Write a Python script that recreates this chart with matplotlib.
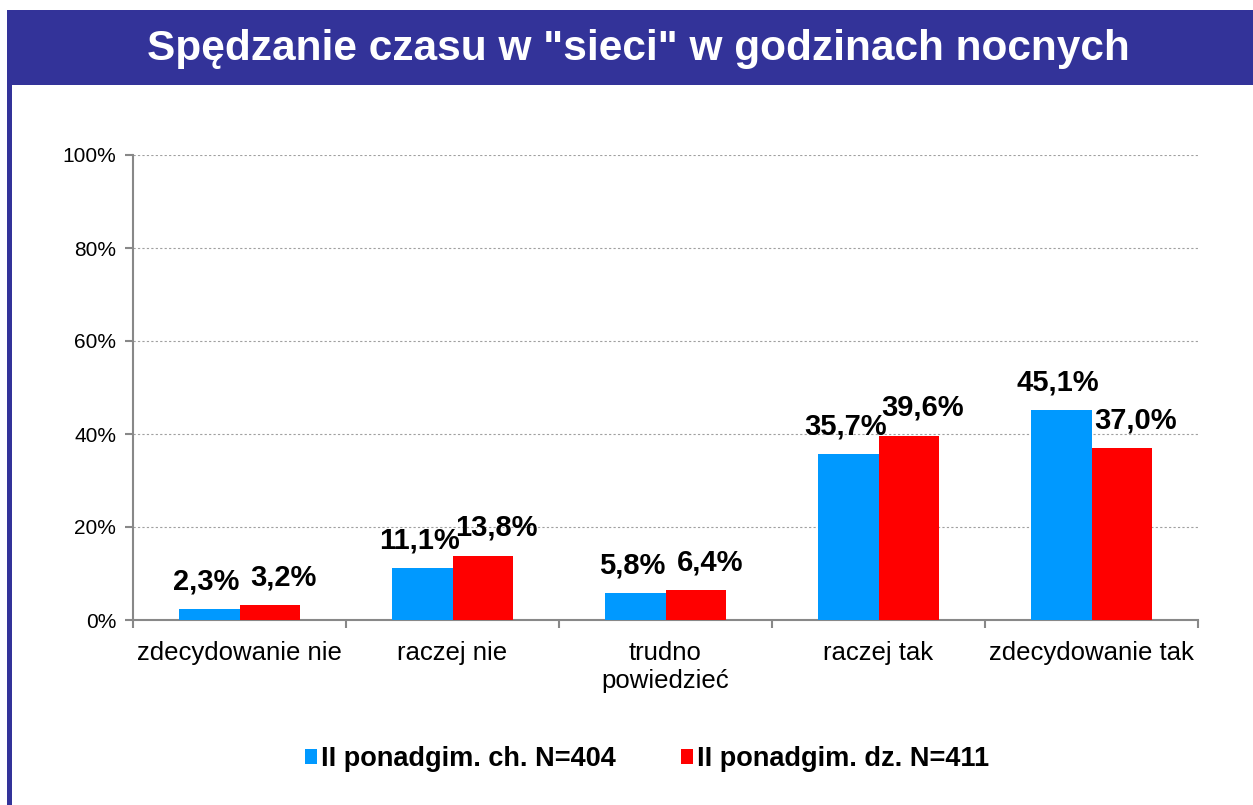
import matplotlib
matplotlib.use("Agg")
import matplotlib.pyplot as plt
from matplotlib.patches import Rectangle
import numpy as np

plt.rcParams['font.family'] = ['Liberation Sans', 'DejaVu Sans']

categories = ["zdecydowanie nie", "raczej nie", "trudno\npowiedzieć", "raczej tak", "zdecydowanie tak"]
series_names = ["II ponadgim. ch. N=404", "II ponadgim. dz. N=411"]
boys = [2.3, 11.1, 5.8, 35.7, 45.1]
girls = [3.2, 13.8, 6.4, 39.6, 37.0]
colors = ["#0099FF", "#FF0000"]
yticks = [0, 20, 40, 60, 80, 100]
title = 'Spędzanie czasu w "sieci" w godzinach nocnych'

W, H = 1253, 805
fig = plt.figure(figsize=(W/100, H/100), dpi=100)

# banner & left border
fig.patches.append(Rectangle((7/W, 1-85/H), 1-7/W, 75/H, transform=fig.transFigure,
                             facecolor="#333399", edgecolor="none", zorder=0))
fig.patches.append(Rectangle((7/W, 0), 5/W, 1-85/H, transform=fig.transFigure,
                             facecolor="#333399", edgecolor="none", zorder=0))
fig.text(638/W, 1-49/H, title, color="white", fontsize=30.5, fontweight="bold",
         ha="center", va="center")

ax = fig.add_axes([133/W, 1-620/H, (1198-133)/W, (620-155)/H])
x = np.arange(len(categories))
bw = 0.286
b1 = ax.bar(x - bw/2, boys, bw, color=colors[0], label=series_names[0], zorder=3)
b2 = ax.bar(x + bw/2, girls, bw, color=colors[1], label=series_names[1], zorder=3)

for bars, vals, dx in ((b1, boys, -2), (b2, girls, 10)):
    for r, v in zip(bars, vals):
        ax.annotate(f"{v:.1f}%".replace(".", ","), (r.get_x() + r.get_width()/2, v),
                    xytext=(dx, 10), textcoords="offset points", ha="center", va="bottom",
                    fontsize=21, fontweight="bold", zorder=4)

ax.set_xlim(-0.5, len(categories) - 0.5)
ax.set_ylim(0, 100)
ax.set_yticks(yticks)
ax.set_yticklabels([f"{t}%" for t in yticks], fontsize=15)
ax.yaxis.grid(True, linestyle=(0, (2, 2)), color="#A0A0A0", linewidth=0.8, zorder=0)
ax.set_axisbelow(True)

ax.set_xticks(x)
ax.set_xticklabels(categories, fontsize=18.5)
ax.tick_params(axis="x", length=0, pad=15)
ax.set_xticks(np.arange(-0.5, len(categories)), minor=True)
ax.tick_params(axis="x", which="minor", length=6, color="#888888", width=1.5)
ax.tick_params(axis="y", length=6, color="#888888", width=1.5, pad=6)

for s in ("top", "right"):
    ax.spines[s].set_visible(False)
for s in ("left", "bottom"):
    ax.spines[s].set_color("#888888")
    ax.spines[s].set_linewidth(1.5)

leg = fig.legend(loc="center", bbox_to_anchor=(647/W, 1-759/H), ncol=2, frameon=False,
                 prop={"size": 19.5, "weight": "bold"}, handlelength=0.45, handleheight=0.45,
                 handletextpad=0.15, columnspacing=2.4)

fig.savefig("out.png", dpi=100)
